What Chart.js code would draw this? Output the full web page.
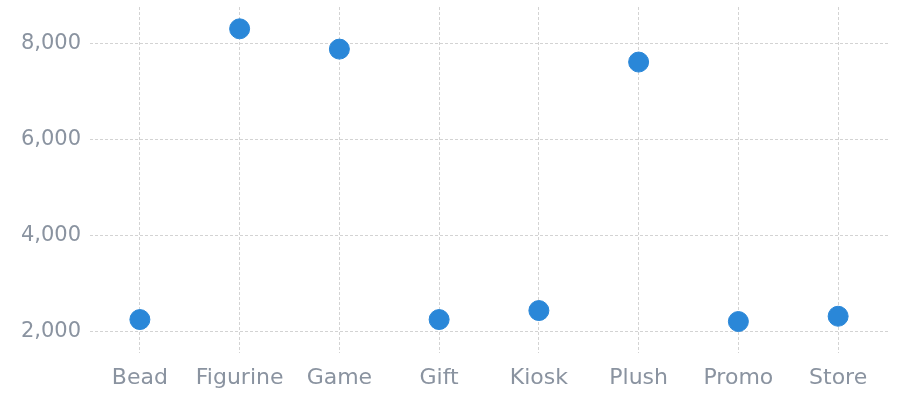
<!DOCTYPE html>
<html>
<head>
<meta charset="utf-8">
<script src="https://cdn.jsdelivr.net/npm/chart.js@4/dist/chart.umd.min.js"></script>
<style>
  html, body { margin: 0; padding: 0; background: #ffffff; }
  #wrap { width: 899px; height: 393px; position: relative; }
</style>
</head>
<body>
<div id="wrap"><canvas id="chart"></canvas></div>
<script>
// Units sold per category
const categories = ['Bead', 'Figurine', 'Game', 'Gift', 'Kiosk', 'Plush', 'Promo', 'Store'];
const units = [2255, 8297, 7875, 2255, 2442, 7606, 2214, 2324];
const yTicks = [2000, 4000, 6000, 8000];

const gridColor = '#d3d3d3';
const labelColor = '#8a93a0';

new Chart(document.getElementById('chart'), {
  type: 'line',
  data: {
    labels: categories,
    datasets: [{
      data: units,
      showLine: false,
      pointRadius: 10,
      pointHoverRadius: 10,
      pointBackgroundColor: '#2a87d8',
      pointBorderColor: '#2a87d8',
      pointBorderWidth: 1
    }]
  },
  options: {
    responsive: true,
    maintainAspectRatio: false,
    animation: false,
    layout: { autoPadding: false, padding: { top: 7, right: 11, bottom: 0, left: 0 } },
    plugins: { legend: { display: false }, tooltip: { enabled: false } },
    scales: {
      x: {
        offset: true,
        border: { display: false, dash: [3, 2] },
        grid: { color: gridColor, drawTicks: false, offset: false },
        afterFit: (scale) => {
          scale.height = 40;
          scale.paddingLeft = 0;
          scale.paddingRight = 0;
        },
        ticks: {
          color: labelColor,
          font: { family: 'DejaVu Sans', size: 22 },
          padding: 12,
          maxRotation: 0
        }
      },
      y: {
        min: 1560,
        max: 8750,
        border: { display: false, dash: [3, 2] },
        grid: { color: gridColor, drawTicks: false },
        afterBuildTicks: (scale) => { scale.ticks = yTicks.map(v => ({ value: v })); },
        afterFit: (scale) => {
          scale.width = 90;
          scale.paddingTop = 0;
          scale.paddingBottom = 0;
        },
        ticks: {
          color: labelColor,
          font: { family: 'DejaVu Sans', size: 21 },
          padding: 9,
          callback: (v) => Number(v).toLocaleString('en-US')
        }
      }
    }
  }
});
</script>
</body>
</html>
